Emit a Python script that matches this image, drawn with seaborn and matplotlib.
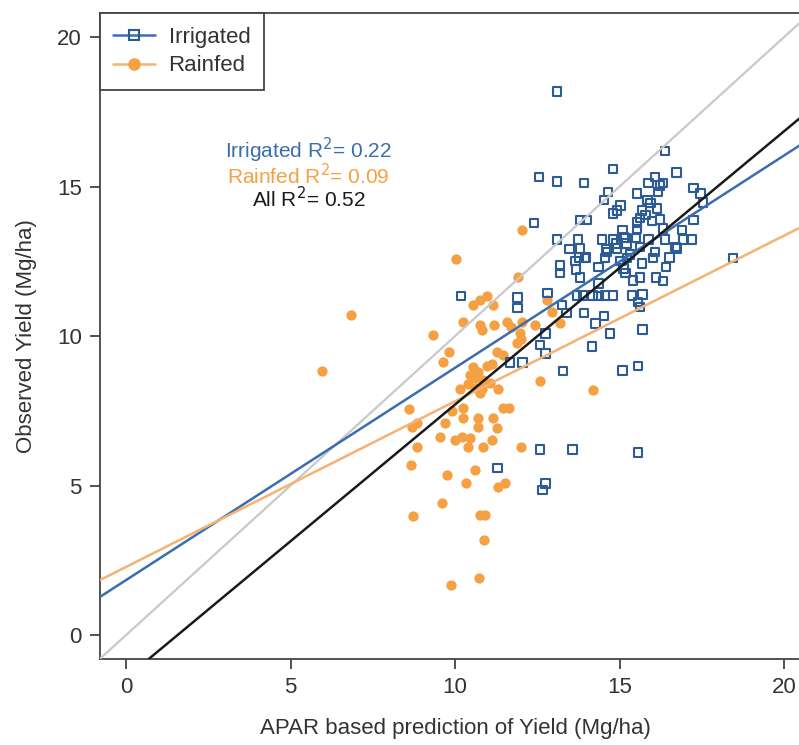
import numpy as np
import pandas as pd
import matplotlib
matplotlib.use("Agg")
import matplotlib.pyplot as plt
from matplotlib.lines import Line2D
import seaborn as sns

# ---- data ----
irr_x = [13.10, 16.38, 14.80, 12.55, 13.10, 13.92, 16.72, 15.87, 16.08, 16.23,
         16.32, 16.17, 17.26, 17.45, 17.54, 14.65, 14.53, 15.02, 14.92, 14.80,
         15.53, 15.84, 15.93, 15.68, 15.62, 15.78, 16.14, 16.23, 15.53, 15.99,
         17.26, 12.40, 13.80, 14.01, 13.10, 13.47, 13.74, 13.80, 13.77, 14.47,
         14.62, 14.80, 14.89, 15.08, 15.11, 15.20, 15.53, 15.50, 15.87, 16.08,
         16.38, 16.69, 16.90, 16.93, 17.20, 18.45, 13.19, 13.19, 13.65, 13.68,
         13.95, 14.35, 14.56, 15.02, 15.11, 15.32, 15.41, 15.62, 16.02, 16.11,
         16.32, 16.41, 13.80, 14.35, 11.91, 11.91, 12.80, 13.71, 13.89, 14.19,
         14.35, 14.56, 14.80, 15.38, 15.71, 15.56, 15.62, 13.25, 13.92, 13.40,
         14.26, 14.53, 15.71, 12.74, 12.58, 12.74, 12.04, 11.67, 13.28, 14.16,
         14.71, 15.08, 15.56, 12.58, 13.56, 15.56, 11.28, 12.74, 12.67, 10.18,
         15.17, 14.59, 14.92, 15.62, 16.75, 15.23, 16.53, 15.68, 15.17, 16.32,
         13.98]
irr_y = [18.19, 16.19, 15.59, 15.32, 15.18, 15.12, 15.48, 15.12, 15.32, 15.05,
         15.12, 14.82, 14.95, 14.78, 14.48, 14.82, 14.55, 14.38, 14.21, 14.11,
         14.78, 14.55, 14.45, 14.21, 13.95, 14.05, 14.28, 13.91, 13.81, 13.85,
         13.88, 13.78, 13.88, 13.88, 13.24, 12.91, 13.24, 12.94, 12.64, 13.24,
         12.81, 13.24, 13.11, 13.55, 13.31, 13.11, 13.58, 13.28, 13.24, 12.81,
         13.24, 12.98, 13.55, 13.24, 13.24, 12.61, 12.37, 12.11, 12.51, 12.24,
         12.61, 12.31, 12.61, 12.51, 12.27, 12.74, 11.87, 11.97, 12.61, 11.97,
         11.84, 12.31, 11.97, 11.77, 11.30, 10.94, 11.44, 11.37, 11.37, 11.37,
         11.34, 11.37, 11.37, 11.37, 11.40, 11.14, 10.97, 11.04, 10.77, 10.77,
         10.43, 10.67, 10.23, 10.10, 9.70, 9.43, 9.13, 9.13, 8.83, 9.65,
         10.10, 8.86, 9.00, 6.22, 6.22, 6.12, 5.59, 5.08, 4.85, 11.34,
         13.28, 12.91, 12.94, 12.98, 12.94, 12.61, 12.64, 12.44, 12.11, 13.61,
         12.64]

rain_x = [5.96, 6.84, 10.03, 12.04, 11.91, 10.55, 10.76, 10.97, 11.16, 9.33,
          10.25, 10.75, 10.82, 11.19, 11.58, 11.70, 11.98, 12.43, 11.88, 12.00,
          9.83, 9.62, 11.28, 11.46, 10.55, 10.70, 10.97, 11.13, 10.46, 10.61,
          10.85, 11.06, 12.58, 10.15, 10.82, 11.31, 14.19, 8.60, 8.70, 8.85,
          9.91, 10.25, 10.25, 10.70, 11.16, 11.46, 11.64, 9.70, 10.70, 11.28,
          9.55, 10.00, 10.21, 10.46, 10.40, 10.85, 11.13, 12.00, 8.85, 8.66,
          9.76, 10.61, 10.33, 11.31, 11.52, 9.60, 8.72, 10.76, 10.91, 10.88,
          10.73, 9.88, 12.80, 12.95, 13.19, 10.76, 10.40, 10.65, 12.04]
rain_y = [8.83, 10.70, 12.57, 13.55, 11.97, 11.04, 11.20, 11.34, 11.04, 10.03,
          10.46, 10.37, 10.20, 10.37, 10.46, 10.30, 10.10, 10.37, 9.77, 9.90,
          9.47, 9.13, 9.47, 9.37, 8.96, 8.80, 9.00, 9.07, 8.70, 8.60,
          8.53, 8.43, 8.50, 8.23, 8.23, 8.23, 8.20, 7.56, 6.96, 7.10,
          7.49, 7.59, 7.26, 7.26, 7.26, 7.59, 7.59, 7.09, 6.96, 6.92,
          6.62, 6.52, 6.62, 6.59, 6.29, 6.29, 6.52, 6.29, 6.29, 5.69,
          5.35, 5.52, 5.08, 4.95, 5.08, 4.41, 3.98, 4.01, 4.01, 3.18,
          1.91, 1.67, 11.20, 10.80, 10.43, 8.09, 8.40, 8.25, 10.46]

# fitted lines (intercept, slope) and R^2 values
fit_names = ["Irrigated", "Rainfed", "All"]
fit_intercepts = [1.84, 2.28, -1.43]
fit_slopes = [0.71, 0.554, 0.914]
fit_r2 = [0.22, 0.09, 0.52]

BLUE_PT = "#2B5C96"
BLUE_LN = "#3A6EAE"
ORANGE_PT = "#F5A043"
ORANGE_LN = "#F6B272"
BLACK = "#1A1A1A"
GREY = "#C9C9C9"
TXT = "#333333"

sns.set_style("ticks")
plt.rcParams["font.family"] = ["Liberation Sans", "DejaVu Sans"]

df_irr = pd.DataFrame({"x": irr_x, "y": irr_y})
df_rain = pd.DataFrame({"x": rain_x, "y": rain_y})

fig = plt.figure(figsize=(7.99, 7.45), dpi=100)
ax = fig.add_axes([0.1248, 0.1154, 0.8894, 0.8669])

sns.scatterplot(data=df_rain, x="x", y="y", ax=ax, marker="o", s=55,
                color=ORANGE_PT, edgecolor=ORANGE_PT, linewidth=0, zorder=2)
sns.scatterplot(data=df_irr, x="x", y="y", ax=ax, marker="s", s=40,
                facecolor="none", edgecolor=BLUE_PT, linewidth=1.5, zorder=3)

# 1:1 line
ax.axline((0, 0), slope=1, color=GREY, lw=1.6, zorder=4)
line_cols = [BLUE_LN, ORANGE_LN, BLACK]
for b, m, c in zip(fit_intercepts, fit_slopes, line_cols):
    ax.axline((0, b), slope=m, color=c, lw=1.8, zorder=5)

ax.set_xlim(-0.8, 20.8)
ax.set_ylim(-0.8, 20.8)
ax.set_xticks([0, 5, 10, 15, 20])
ax.set_yticks([0, 5, 10, 15, 20])
ax.tick_params(axis="both", labelsize=16, colors=TXT, length=7, width=1.2,
               direction="out", pad=6)
for sp in ax.spines.values():
    sp.set_color("#444444")
    sp.set_linewidth(1.3)
ax.set_xlabel("APAR based prediction of Yield (Mg/ha)", fontsize=16, color=TXT, labelpad=14)
ax.set_ylabel("Observed Yield (Mg/ha)", fontsize=16, color=TXT, labelpad=14)

# R^2 annotations
txt_cols = [BLUE_LN, ORANGE_PT, BLACK]
ys = [16.22, 15.38, 14.6]
for name, r2, c, yy in zip(fit_names, fit_r2, txt_cols, ys):
    ax.text(5.55, yy, f"{name} R$^2$= {r2:.2f}", color=c, fontsize=15,
            ha="center", va="center", zorder=6)

handles = [
    Line2D([], [], color=BLUE_LN, lw=1.8, marker="s", markersize=7,
           markerfacecolor="none", markeredgecolor=BLUE_PT, markeredgewidth=1.5),
    Line2D([], [], color=ORANGE_LN, lw=1.8, marker="o", markersize=8,
           markerfacecolor=ORANGE_PT, markeredgecolor=ORANGE_PT),
]
leg = ax.legend(handles, ["Irrigated", "Rainfed"], loc="upper left",
                borderaxespad=0, fancybox=False, framealpha=1, fontsize=16,
                edgecolor="#444444", handlelength=1.9, handletextpad=0.6,
                borderpad=0.6, labelspacing=0.35)
leg.get_frame().set_linewidth(1.3)
for t in leg.get_texts():
    t.set_color(TXT)

fig.savefig("out.png", dpi=100)
